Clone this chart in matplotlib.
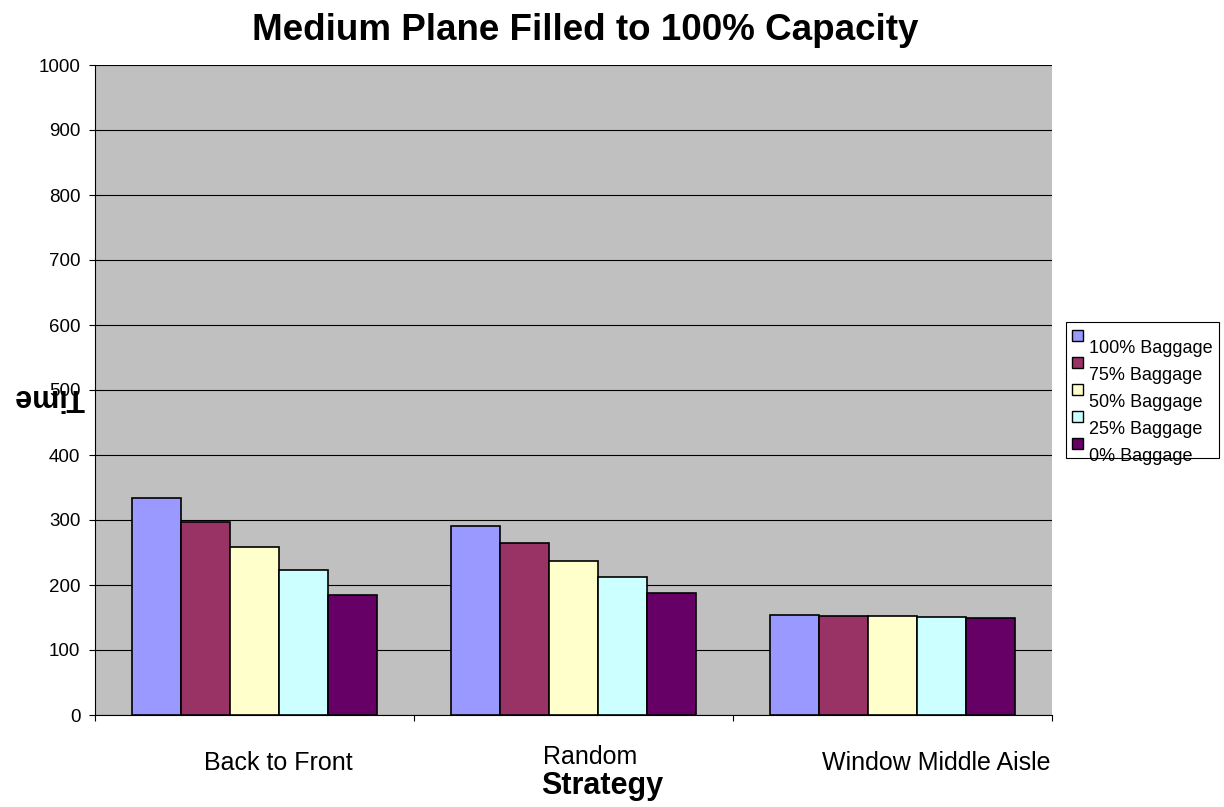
import matplotlib
matplotlib.use("Agg")
import matplotlib.pyplot as plt
from matplotlib.patches import Rectangle
from matplotlib.transforms import blended_transform_factory
import numpy as np

plt.rcParams["font.family"] = ["Liberation Sans", "DejaVu Sans"]

# data
strategies = ["Back to Front", "Random", "Window Middle Aisle"]
series = ["100% Baggage", "75% Baggage", "50% Baggage", "25% Baggage", "0% Baggage"]
bag_100 = [334, 291, 154]
bag_75 = [297, 265, 153]
bag_50 = [259, 237, 152]
bag_25 = [223, 212, 151]
bag_0 = [185, 187, 149]
values = [bag_100, bag_75, bag_50, bag_25, bag_0]
colors = ["#9999FF", "#993366", "#FFFFCC", "#CCFFFF", "#660066"]
yticks = list(range(0, 1001, 100))

W, H = 1224, 807
fig = plt.figure(figsize=(W / 100, H / 100), dpi=100)
ax = fig.add_axes([95 / W, 1 - 715 / H, (1052 - 95) / W, (715 - 65) / H])
ax.set_facecolor("#C0C0C0")

x = np.arange(len(strategies))
bw = 0.1536
for i, (vals, c) in enumerate(zip(values, colors)):
    ax.bar(x + (i - 2) * bw, vals, width=bw, color=c, edgecolor="black",
           linewidth=1.2, zorder=3)

ax.set_xlim(-0.5, 2.5)
ax.set_ylim(0, 1000)
ax.set_yticks(yticks)
ax.set_yticklabels([str(v) for v in yticks], fontsize=13.5)
ax.yaxis.grid(True, color="black", linewidth=0.8, zorder=1)
ax.set_axisbelow(True)
ax.tick_params(axis="y", direction="out", length=4.5, width=0.8, pad=6)

# tick marks at category boundaries, labels placed as text
ax.set_xticks(np.arange(-0.5, 2.6, 1.0))
ax.set_xticklabels([])
ax.tick_params(axis="x", direction="out", length=4.5, width=0.8)

for s in ["top", "right"]:
    ax.spines[s].set_visible(False)
ax.spines["left"].set_color("black")
ax.spines["bottom"].set_color("black")

trans = blended_transform_factory(ax.transData, ax.transAxes)
label_x = [0.074, 1.052, 2.136]
label_y = [-0.074, -0.065, -0.074]
for lx, ly, name in zip(label_x, label_y, strategies):
    ax.text(lx, ly, name, transform=trans, ha="center", va="center", fontsize=18)

fig.text(602 / W, 1 - 786 / H, "Strategy", ha="center", va="center",
         fontsize=22, fontweight="bold")
fig.text(49 / W, 1 - 397 / H, "Time", ha="center", va="center",
         fontsize=22, fontweight="bold", rotation=180)
fig.text(585 / W, 1 - 31 / H, "Medium Plane Filled to 100% Capacity",
         ha="center", va="center", fontsize=26.5, fontweight="bold")

# legend drawn by hand (Excel style, labels sit below their swatches)
fig.patches.append(Rectangle((1066 / W, 1 - 458 / H), (1219 - 1066) / W, (458 - 322) / H,
                             transform=fig.transFigure, facecolor="white",
                             edgecolor="black", linewidth=0.8, zorder=1))
for i, (name, c) in enumerate(zip(series, colors)):
    top = 330 + i * 27
    fig.patches.append(Rectangle((1072 / W, 1 - (top + 11) / H), 11 / W, 11 / H,
                                 transform=fig.transFigure, facecolor=c,
                                 edgecolor="black", linewidth=1.0, zorder=2))
    fig.text(1089 / W, 1 - (348 + i * 27) / H, name, ha="left", va="center",
             fontsize=13, zorder=3)

fig.savefig("out.png", dpi=100)
